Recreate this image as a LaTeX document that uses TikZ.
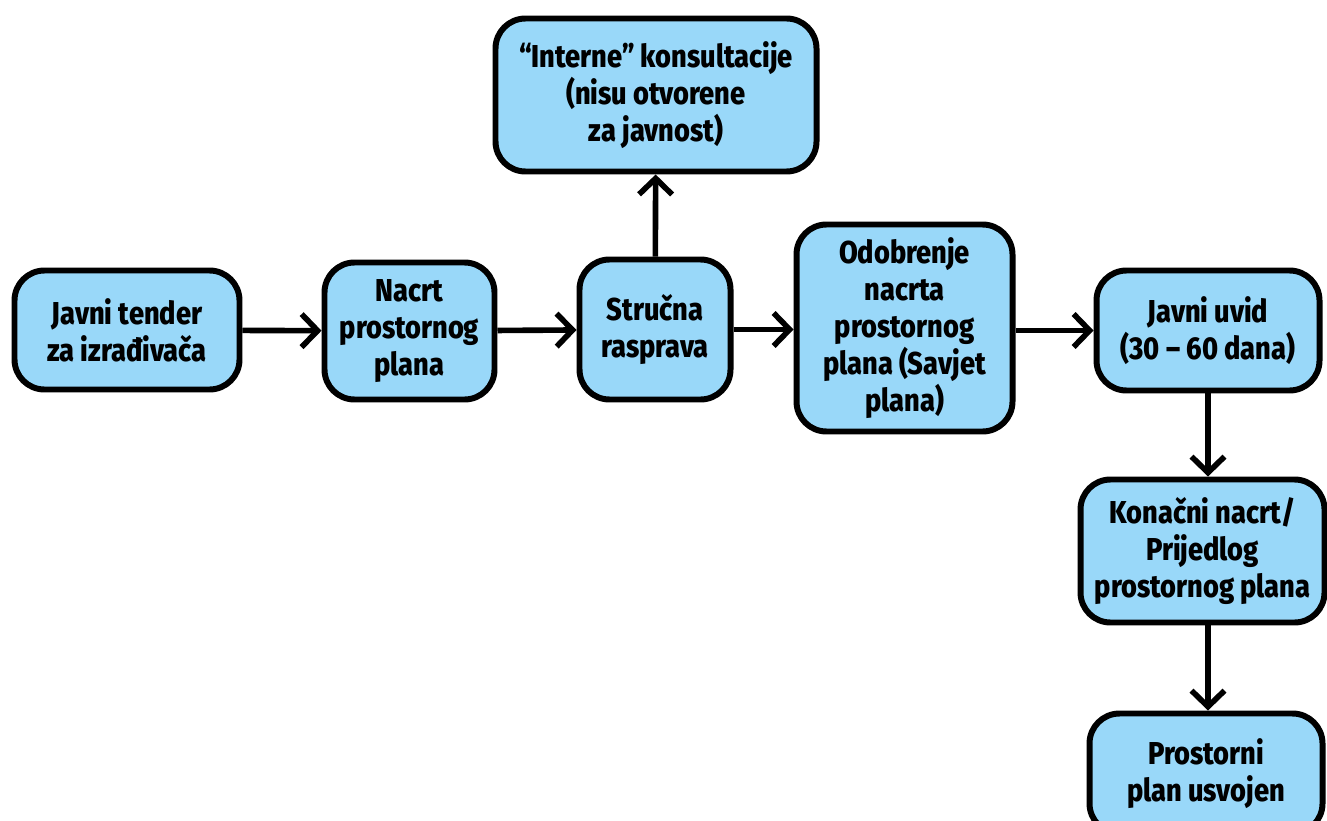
\documentclass[tikz,border=0pt]{standalone}
\usepackage{fontspec}
\setmainfont{Fira Sans}[FakeStretch=0.86, BoldFont={Fira Sans ExtraBold}]
\usetikzlibrary{arrows.meta,positioning}
\definecolor{boxblue}{RGB}{153,216,249}
\tikzset{
    stage/.style={rectangle, rounded corners=0.6cm, draw, line width=3.4pt, fill=boxblue,
        align=center, font=\bfseries\fontsize{18}{21}\selectfont, inner sep=2pt},
    flow/.style={-{Straight Barb[length=0.32cm,width=0.66cm]}, line width=3.2pt}
}
\begin{document}
\begin{tikzpicture}
    \useasboundingbox (0,0) rectangle (26.54,-16.4);
    % Nodes
    \node (tender) [stage, minimum width=4.5cm, minimum height=2.38cm] at (2.54,-6.6) {Javni tender\\za izrađivača};
    \node (nacrt) [stage, minimum width=3.4cm, minimum height=2.74cm] at (8.19,-6.62) {Nacrt\\prostornog\\plana};
    \node (rasprava) [stage, minimum width=3.02cm, minimum height=2.8cm] at (13.1,-6.59) {Stručna\\rasprava};
    \node (interne) [stage, minimum width=6.42cm, minimum height=3.06cm] at (13.12,-1.9) {“Interne” konsultacije\\(nisu otvorene\\za javnost)};
    \node (odobrenje) [stage, minimum width=4.32cm, minimum height=4.14cm] at (18.09,-6.56) {Odobrenje\\nacrta\\prostornog\\plana (Savjet\\plana)};
    \node (uvid) [stage, minimum width=4.46cm, minimum height=2.4cm] at (24.16,-6.61) {Javni uvid\\(30 – 60 dana)};
    \node (konacni) [stage, minimum width=4.88cm, minimum height=2.86cm] at (24.05,-11.02) {Konačni nacrt/\\Prijedlog\\prostornog plana};
    \node (usvojen) [stage, minimum width=4.66cm, minimum height=2.4cm] at (24.12,-15.47) {Prostorni\\plan usvojen};
    % Arrows
    \draw[flow] (tender) -- (nacrt);
    \draw[flow] (nacrt) -- (rasprava);
    \draw[flow] (rasprava) -- (interne);
    \draw[flow] (rasprava) -- (odobrenje.west |- rasprava);
    \draw[flow] (odobrenje.east |- uvid) -- (uvid);
    \draw[flow] (uvid.south) -- (uvid.south |- konacni.north);
    \draw[flow] (uvid.south |- konacni.south) -- (uvid.south |- usvojen.north);
\end{tikzpicture}
\end{document}
